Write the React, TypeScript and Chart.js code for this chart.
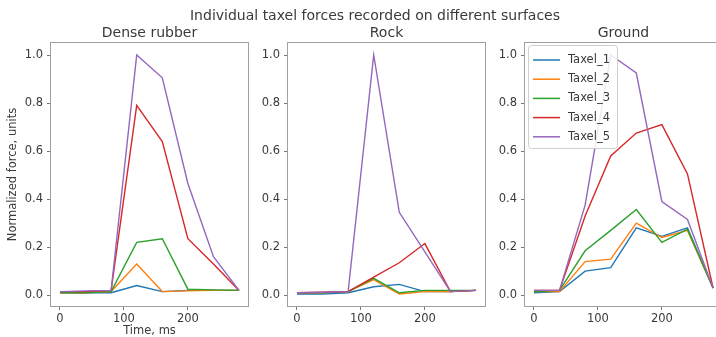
import React, { useEffect, useRef } from "react";
import { Chart, registerables } from "chart.js";

Chart.register(...registerables);

// ---------- data ----------
const times = [0, 40, 80, 120, 160, 200, 240, 280];
const taxelLabels = ["Taxel_1", "Taxel_2", "Taxel_3", "Taxel_4", "Taxel_5"];
const taxelColors = ["#1f77b4", "#ff7f0e", "#2ca02c", "#d62728", "#9467bd"];
const panelTitles = ["Dense rubber", "Rock", "Ground"];
const figureTitle = "Individual taxel forces recorded on different surfaces";
const xAxisLabel = "Time, ms";
const yAxisLabel = "Normalized force, units";
const yTickValues = [0, 0.2, 0.4, 0.6, 0.8, 1.0];
const xTickValues = [0, 100, 200];

const rubberT1 = [0.01, 0.01, 0.01, 0.04, 0.015, 0.02, 0.02, 0.02];
const rubberT2 = [0.01, 0.01, 0.015, 0.13, 0.015, 0.018, 0.02, 0.02];
const rubberT3 = [0.01, 0.01, 0.015, 0.22, 0.235, 0.025, 0.022, 0.02];
const rubberT4 = [0.015, 0.015, 0.02, 0.79, 0.64, 0.235, 0.13, 0.02];
const rubberT5 = [0.015, 0.018, 0.02, 1.0, 0.905, 0.465, 0.16, 0.02];

const rockT1 = [0.005, 0.005, 0.01, 0.035, 0.045, 0.015, 0.015, 0.02];
const rockT2 = [0.01, 0.01, 0.015, 0.065, 0.005, 0.015, 0.015, 0.02];
const rockT3 = [0.01, 0.01, 0.015, 0.07, 0.01, 0.02, 0.02, 0.02];
const rockT4 = [0.01, 0.012, 0.015, 0.075, 0.135, 0.215, 0.015, 0.02];
const rockT5 = [0.01, 0.012, 0.015, 1.0, 0.345, 0.18, 0.015, 0.02];

const groundT1 = [0.01, 0.015, 0.1, 0.115, 0.28, 0.245, 0.28, 0.03];
const groundT2 = [0.015, 0.015, 0.14, 0.15, 0.3, 0.24, 0.27, 0.03];
const groundT3 = [0.015, 0.02, 0.185, 0.27, 0.357, 0.22, 0.275, 0.03];
const groundT4 = [0.02, 0.02, 0.33, 0.58, 0.675, 0.71, 0.505, 0.03];
const groundT5 = [0.02, 0.02, 0.375, 1.0, 0.925, 0.39, 0.315, 0.03];

const panelSeries = [
  [rubberT1, rubberT2, rubberT3, rubberT4, rubberT5],
  [rockT1, rockT2, rockT3, rockT4, rockT5],
  [groundT1, groundT2, groundT3, groundT4, groundT5],
];

// ---------- layout ----------
const CW = 740;
const CH = 345;
const AXIS_LEFTS = [51, 288, 525];
const AXIS_W = 197;
const AXIS_BOTTOM = 306;
const Y_AXIS_W = 50;
const FONT = "'DejaVu Sans', sans-serif";
const TEXT_COLOR = "#3a3a3a";

const boxPlugin = {
  id: "axesBox",
  afterDatasetsDraw(chart: any) {
    const { ctx, chartArea: a } = chart;
    ctx.save();
    ctx.strokeStyle = "#a0a0a0";
    ctx.lineWidth = 1;
    ctx.strokeRect(
      Math.round(a.left) - 0.5,
      Math.round(a.top) - 0.5,
      Math.round(a.right - a.left) + 1,
      Math.round(a.bottom - a.top) + 1
    );
    ctx.restore();
  },
};

const innerLegendPlugin = {
  id: "innerLegend",
  afterDraw(chart: any, _args: any, opts: any) {
    if (!opts || !opts.show) return;
    const { ctx, chartArea: a } = chart;
    const x0 = Math.round(a.left) + 3;
    const y0 = Math.round(a.top) + 2;
    const w = 89;
    const h = 103;
    ctx.save();
    ctx.beginPath();
    ctx.roundRect(x0 + 0.5, y0 + 0.5, w, h, 3);
    ctx.fillStyle = "rgba(255,255,255,0.85)";
    ctx.fill();
    ctx.strokeStyle = "#d0d0d0";
    ctx.lineWidth = 1;
    ctx.stroke();
    chart.data.datasets.forEach((ds: any, i: number) => {
      const y = y0 + 15 + i * 19.2;
      ctx.strokeStyle = ds.borderColor;
      ctx.lineWidth = 1.5;
      ctx.beginPath();
      ctx.moveTo(x0 + 5, y);
      ctx.lineTo(x0 + 32, y);
      ctx.stroke();
      ctx.fillStyle = TEXT_COLOR;
      ctx.font = `11.5px ${FONT}`;
      ctx.textBaseline = "middle";
      ctx.textAlign = "left";
      ctx.fillText(ds.label, x0 + 40, y);
    });
    ctx.restore();
  },
};

const figureTitlePlugin = {
  id: "figureTitle",
  afterDraw(chart: any, _args: any, opts: any) {
    if (!opts || !opts.text) return;
    const { ctx } = chart;
    ctx.save();
    ctx.fillStyle = TEXT_COLOR;
    ctx.font = `14px ${FONT}`;
    ctx.textAlign = "center";
    ctx.textBaseline = "middle";
    ctx.fillText(opts.text, opts.x, opts.y);
    ctx.restore();
  },
};

function makeConfig(p: number): any {
  const left = AXIS_LEFTS[p];
  const series = panelSeries[p];
  return {
    type: "line",
    data: {
      datasets: series.map((vals, i) => ({
        label: taxelLabels[i],
        data: times.map((t, k) => ({ x: t, y: vals[k] })),
        borderColor: taxelColors[i],
        backgroundColor: taxelColors[i],
        borderWidth: 1.4,
        pointRadius: 0,
        tension: 0,
        fill: false,
        order: series.length - 1 - i,
      })),
    },
    options: {
      animation: false,
      responsive: false,
      devicePixelRatio: 1,
      events: [],
      layout: {
        padding: {
          left: left - Y_AXIS_W,
          right: CW - (left + AXIS_W),
          top: 0,
          bottom: 0,
        },
      },
      plugins: {
        legend: { display: false },
        tooltip: { enabled: false },
        title: {
          display: true,
          text: panelTitles[p],
          fullSize: false,
          color: TEXT_COLOR,
          font: { family: FONT, size: 14, weight: "normal", lineHeight: 1.2 },
          padding: { top: 25, bottom: 1.2 },
        },
        innerLegend: { show: p === 2 },
        figureTitle: p === 1 ? { text: figureTitle, x: 375, y: 16 } : {},
      },
      scales: {
        x: {
          type: "linear",
          min: -14,
          max: 294,
          afterFit: (s: any) => {
            s.height = CH - AXIS_BOTTOM;
          },
          afterBuildTicks: (s: any) => {
            s.ticks = xTickValues.map((v) => ({ value: v }));
          },
          ticks: {
            color: TEXT_COLOR,
            font: { family: FONT, size: 11.5 },
            padding: 2,
            maxRotation: 0,
            autoSkip: false,
            callback: (v: any) => String(v),
          },
          grid: {
            display: true,
            drawOnChartArea: false,
            drawTicks: true,
            tickLength: 4,
            color: "#777",
          },
          border: { display: false },
          title: {
            display: p === 0,
            text: xAxisLabel,
            color: TEXT_COLOR,
            font: { family: FONT, size: 11.5, lineHeight: 1.2 },
            padding: { top: 0, bottom: 6.6 },
          },
        },
        y: {
          type: "linear",
          min: -0.045,
          max: 1.05,
          afterFit: (s: any) => {
            s.width = Y_AXIS_W;
          },
          afterBuildTicks: (s: any) => {
            s.ticks = yTickValues.map((v) => ({ value: v }));
          },
          ticks: {
            color: TEXT_COLOR,
            font: { family: FONT, size: 11.5 },
            padding: 4,
            autoSkip: false,
            callback: (v: any) => Number(v).toFixed(1),
          },
          grid: {
            display: true,
            drawOnChartArea: false,
            drawTicks: true,
            tickLength: 4,
            color: "#777",
          },
          border: { display: false },
          title: {
            display: p === 0,
            text: yAxisLabel,
            color: TEXT_COLOR,
            font: { family: FONT, size: 11.5, lineHeight: 1.2 },
            padding: { top: 5.6, bottom: 0 },
          },
        },
      },
    },
    plugins: [boxPlugin, innerLegendPlugin, figureTitlePlugin],
  };
}

export default function App() {
  const r0 = useRef<HTMLCanvasElement>(null);
  const r1 = useRef<HTMLCanvasElement>(null);
  const r2 = useRef<HTMLCanvasElement>(null);

  useEffect(() => {
    const refs = [r0, r1, r2];
    const charts = refs.map((r, p) => new Chart(r.current as HTMLCanvasElement, makeConfig(p)));
    return () => charts.forEach((c) => c.destroy());
  }, []);

  const canvasStyle: React.CSSProperties = {
    position: "absolute",
    left: 0,
    top: 0,
    width: CW,
    height: CH,
  };

  return (
    <div
      style={{
        position: "absolute",
        left: 0,
        top: 0,
        width: 716,
        height: 337,
        overflow: "hidden",
        background: "#ffffff",
      }}
    >
      <canvas ref={r0} width={CW} height={CH} style={canvasStyle} />
      <canvas ref={r1} width={CW} height={CH} style={canvasStyle} />
      <canvas ref={r2} width={CW} height={CH} style={canvasStyle} />
    </div>
  );
}
